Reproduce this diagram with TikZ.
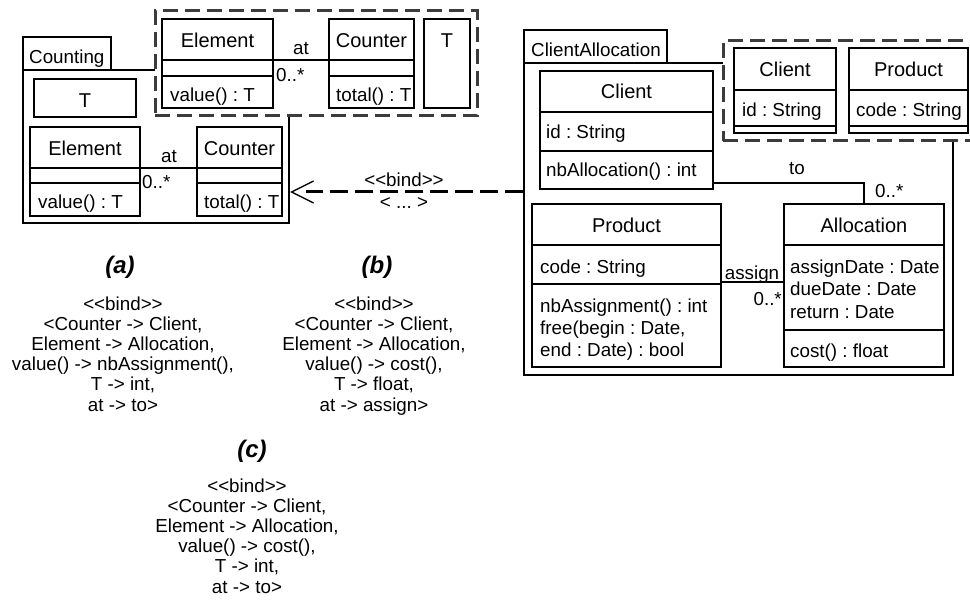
\documentclass[tikz,border=0pt]{standalone}
\usepackage{fontspec}
\setmainfont{Liberation Sans}
\usetikzlibrary{fit,calc}
\definecolor{dashgray}{HTML}{3C3C3C}
\newcommand\LL{<\kern0pt<}
\newcommand\GG{>\kern0pt>}
\frenchspacing
\begin{document}
\begin{tikzpicture}[x=1pt,y=-1pt,
  font=\fontsize{18.8}{20.2}\selectfont\frenchspacing,
  cls/.style={draw, line width=1.2pt, inner sep=0pt, fill=white},
  pkg/.style={draw, line width=1.2pt, inner sep=0pt, fill=white},
  tmpl/.style={draw=dashgray, line width=3pt, dash pattern=on 15pt off 7pt, inner sep=0pt, fill=white},
  lbl/.style={anchor=base, inner sep=0pt},
  namelbl/.style={anchor=base, inner sep=0pt, font=\fontsize{20}{22}\selectfont},
  lbll/.style={anchor=base west, inner sep=0pt},
  lblr/.style={anchor=base east, inner sep=0pt},
  div/.style={line width=1.2pt},
  assoc/.style={line width=1.2pt},
  bindline/.style={line width=3pt, dash pattern=on 18pt off 7pt},
  headline/.style={line width=1.3pt},
  figlbl/.style={anchor=base, inner sep=0pt, font=\fontsize{24}{26}\selectfont\bfseries\itshape},
  bindtxt/.style={anchor=north, inner sep=0pt, align=center, font=\fontsize{18.8}{20.2}\selectfont\frenchspacing}
]
\useasboundingbox (0,0) rectangle (970,607);
\clip (0,0) rectangle (970,607);

% ---------------- Counting package ----------------
\node[pkg, fit={(23,70)(289,223)}] (cntPkg) {};
\node[pkg, fit={(23,37)(111,70)}] (cntTab) {};
\node[lbll] (cntTabTxt) at (29,64) {Counting};
\node[tmpl, fit={(155,11)(477,116)}] (cntTpl) {};

% upper template classes
\node[cls, fit={(162,19)(273,108)}] (elemT) {};
\draw[div] (162,60) -- (273,60) (162,76) -- (273,76);
\node[namelbl] (elemTn) at (217.5,48) {Element};
\node[lbll] (elemTm) at (170,102) {value() : T};

\node[cls, fit={(329,19)(414,108)}] (cntT) {};
\draw[div] (329,60) -- (414,60) (329,76) -- (414,76);
\node[namelbl] (cntTn) at (371.5,48) {Counter};
\node[lbll] (cntTm) at (336,102) {total() : T};

\node[cls, fit={(424,19)(470,108)}] (tT) {};
\node[namelbl] (tTn) at (447,48) {T};

\draw[assoc] (elemT.east |- 0,60) -- (cntT.west |- 0,60);
\node[lbl] (atT) at (301,55) {at};
\node[lbll] (mulT) at (276,82) {0..*};

% lower classes
\node[cls, fit={(34,79)(136,117)}] (tB) {};
\node[namelbl] (tBn) at (85,108) {T};

\node[cls, fit={(30,127)(140,216)}] (elemB) {};
\draw[div] (30,168) -- (140,168) (30,183) -- (140,183);
\node[namelbl] (elemBn) at (85,156) {Element};
\node[lbll] (elemBm) at (38,209) {value() : T};

\node[cls, fit={(197,127)(282,216)}] (cntB) {};
\draw[div] (197,168) -- (282,168) (197,183) -- (282,183);
\node[namelbl] (cntBn) at (239.5,156) {Counter};
\node[lbll] (cntBm) at (204,209) {total() : T};

\draw[assoc] (elemB.east |- 0,168) -- (cntB.west |- 0,168);
\node[lbl] (atB) at (169,163) {at};
\node[lbll] (mulB) at (142,189) {0..*};

% ---------------- ClientAllocation package ----------------
\node[pkg, fit={(524,63)(953,375)}] (caPkg) {};
\node[pkg, fit={(524,30)(667,63)}] (caTab) {};
\node[lbll] (caTabTxt) at (531,57) {ClientAllocation};
\node[tmpl, fit={(723,41)(980,141)}] (caTpl) {};

\node[cls, fit={(734,48)(836,133)}] (clS) {};
\draw[div] (734,90) -- (836,90) (734,126) -- (836,126);
\node[namelbl] (clSn) at (785,77) {Client};
\node[lbll] (clSa) at (742,117) {id : String};

\node[cls, fit={(849,48)(968,133)}] (prS) {};
\draw[div] (849,90) -- (968,90) (849,126) -- (968,126);
\node[namelbl] (prSn) at (908.5,77) {Product};
\node[lbll] (prSa) at (856,117) {code : String};

\node[cls, fit={(540,71)(713,189)}] (clB) {};
\draw[div] (540,112) -- (713,112) (540,151) -- (713,151);
\node[namelbl] (clBn) at (626.5,99) {Client};
\node[lbll] (clBa) at (546,139) {id : String};
\node[lbll] (clBm) at (546,177) {nbAllocation() : int};

\node[cls, fit={(532,204)(721,367)}] (prB) {};
\draw[div] (532,245) -- (721,245) (532,284) -- (721,284);
\node[namelbl] (prBn) at (626.5,233) {Product};
\node[lbll] (prBa) at (540,273) {code : String};
\node[lbll] (prBm1) at (540,312) {nbAssignment() : int};
\node[lbll] (prBm2) at (540,334) {free(begin : Date,};
\node[lbll] (prBm3) at (540,356) {end : Date) : bool};

\node[cls, fit={(784,204)(944,367)}] (alB) {};
\draw[div] (784,245) -- (944,245) (784,330) -- (944,330);
\node[namelbl] (alBn) at (864,233) {Allocation};
\node[lbll] (alBa1) at (790,273) {assignDate : Date};
\node[lbll] (alBa2) at (790,295) {dueDate : Date};
\node[lbll] (alBa3) at (790,318) {return : Date};
\node[lbll] (alBm) at (790,357) {cost() : float};

\draw[assoc] (clB.east |- 0,183) -| (alB.north -| 864,0);
\node[lbl] (toLbl) at (797,175) {to};
\node[lbll] (toMul) at (875,197) {0..*};

\draw[assoc] (prB.east |- 0,282) -- (alB.west |- 0,282);
\node[lbl] (asLbl) at (752,279) {assign};
\node[lblr] (asMul) at (782,305) {0..*};

% ---------------- bind dependency ----------------
\coordinate (tip) at ($(cntPkg.east |- 0,192)+(2,0)$);
\draw[bindline] (caPkg.west |- 0,192) -- ($(tip)+(14,0)$);
\draw[headline] ($(tip)+(22,-11)$) -- (tip) -- ($(tip)+(22,11)$);
\node[lbl] (bindLbl) at (404,187) {\LL bind\GG};
\node[lbl] (bindArgs) at (404,208) {< ... >};

% ---------------- captions ----------------
\node[figlbl] (capA) at (120,273) {(a)};
\node[figlbl] (capB) at (377,273) {(b)};
\node[figlbl] (capC) at (252,457) {(c)};

\node[bindtxt] (txtA) at (123,296.3) {\LL bind\GG\\<Counter -> Client,\\Element -> Allocation,\\value() -> nbAssignment(),\\T -> int,\\at -> to>};
\node[bindtxt] (txtB) at (374,296.3) {\LL bind\GG\\<Counter -> Client,\\Element -> Allocation,\\value() -> cost(),\\T -> float,\\at -> assign>};
\node[bindtxt] (txtC) at (247,478.3) {\LL bind\GG\\<Counter -> Client,\\Element -> Allocation,\\value() -> cost(),\\T -> int,\\at -> to>};
\end{tikzpicture}
\end{document}
